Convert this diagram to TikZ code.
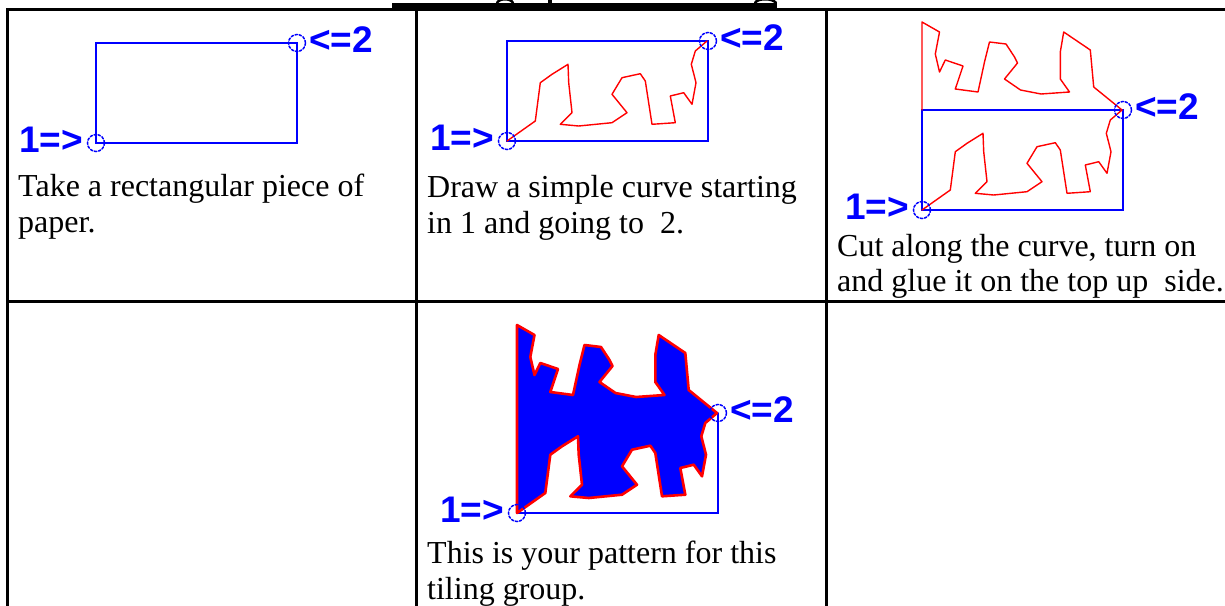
\documentclass[tikz,border=0pt]{standalone}
\usepackage{fontspec}
\setmainfont{Liberation Serif}
\newfontfamily\tagfont{Liberation Sans}
\usepackage{tikz}

% the cut, from point 1 (origin) to point 2; units are pixels, y grows downwards
\newcommand{\lowcut}{(0,0) -- (28.3,-20) -- (33.3,-58.3) -- (45,-66.7) -- (61,-76.7)
  -- (61.7,-58.3) -- (65,-28.3) -- (53.3,-16.7) -- (71.7,-15) -- (105,-18.3)
  -- (120,-28.3) -- (105,-46.7) -- (115,-63.3) -- (133.3,-67.3) -- (138.3,-60)
  -- (145,-16.7) -- (168.3,-18.3) -- (163.3,-45) -- (176.7,-48.3) -- (185,-36.7)
  -- (189,-58.3) -- (184.3,-76.7) -- (188.3,-90) -- (200,-100)}
% same cut walked backwards (starts with a lineto)
\newcommand{\lowcutback}{-- (188.3,-90) -- (184.3,-76.7) -- (189,-58.3) -- (185,-36.7)
  -- (176.7,-48.3) -- (163.3,-45) -- (168.3,-18.3) -- (145,-16.7) -- (138.3,-60)
  -- (133.3,-67.3) -- (115,-63.3) -- (105,-46.7) -- (120,-28.3) -- (105,-18.3)
  -- (71.7,-15) -- (53.3,-16.7) -- (65,-28.3) -- (61.7,-58.3) -- (61,-76.7)
  -- (45,-66.7) -- (33.3,-58.3) -- (28.3,-20) -- (0,0)}
% the piece glued on top
\newcommand{\highcut}{(0,-188) -- (17.5,-178) -- (13.3,-156) -- (17.5,-138) -- (23.3,-150)
  -- (41,-144) -- (33.3,-121) -- (56,-118) -- (62.5,-148) -- (67.5,-168)
  -- (84,-166) -- (92.5,-153) -- (95.5,-147) -- (82.5,-131) -- (98.5,-120)
  -- (119,-116) -- (147.5,-118) -- (138.3,-131) -- (138.3,-158) -- (141.7,-178)
  -- (168.3,-160) -- (171.7,-123) -- (200,-100)}

\begin{document}
\begin{tikzpicture}[x=1pt,y=-1pt,line cap=round,
  tabline/.style={line width=3pt,line cap=rect},
  sheetedge/.style={blue,line width=1.8pt},
  cutedge/.style={red,line width=1.4pt,line join=round},
  endring/.style={blue,line width=1.5pt,dash pattern=on 2.4pt off 1.8pt},
  tagtext/.style={blue,inner sep=0pt,font=\tagfont\bfseries\fontsize{37}{40}\selectfont},
  captext/.style={inner sep=0pt,anchor=base west,font=\fontsize{32}{36}\selectfont}]
\useasboundingbox (0,0) rectangle (1225,605);

% table
\draw[tabline] (7.5,9.5) -- (1226,9.5);
\draw[tabline] (7.5,301) -- (1226,301);
\draw[tabline] (7.5,9.5) -- (7.5,606);
\draw[tabline] (416,9.5) -- (416,606);
\draw[tabline] (826.5,9.5) -- (826.5,606);
% underlined heading, cut off at the top
\fill (392,3) rectangle (777,10);
\draw[line width=2.5pt] (497,3) .. controls (499,-2) and (511,-2) .. (513,3);
\draw[line width=3.5pt] (550,-2) -- (550,3);
\draw[line width=2.5pt] (755,3) .. controls (757,-2) and (773,-2) .. (776,3);

% cell 1
\begin{scope}[shift={(96,143)}]
\draw[sheetedge] (0,0) rectangle (201,-100);
\draw[endring] (0,0) circle (8.5);
\draw[endring] (201,-100) circle (8.5);
\node[tagtext,anchor=base east] (one1) at (-13,9) {1=>};
\node[tagtext,anchor=base west] (two1) at (213,-91) {<=2};
\end{scope}
\node[captext] (cap1a) at (18,196) {Take a rectangular piece of};
\node[captext] (cap1b) at (18,232) {paper.};

% cell 2
\begin{scope}[shift={(507,141)}]
\draw[sheetedge] (0,0) rectangle (201,-100);
\draw[cutedge] \lowcut;
\draw[endring] (0,0) circle (8.5);
\draw[endring] (201,-100) circle (8.5);
\node[tagtext,anchor=base east] (one2) at (-13,9) {1=>};
\node[tagtext,anchor=base west] (two2) at (213,-91) {<=2};
\end{scope}
\node[captext] (cap2a) at (427,197) {Draw a simple curve starting};
\node[captext] (cap2b) at (427,233) {in 1 and going to~ 2.};

% cell 3
\begin{scope}[shift={(922,210)}]
\draw[sheetedge] (0,0) rectangle (201,-100);
\draw[cutedge] (0,-100) -- \highcut;
\draw[cutedge] \lowcut;
\draw[endring] (0,0) circle (8.5);
\draw[endring] (201,-100) circle (8.5);
\node[tagtext,anchor=base east] (one3) at (-13,9) {1=>};
\node[tagtext,anchor=base west] (two3) at (213,-91) {<=2};
\end{scope}
\node[captext] (cap3a) at (837,256) {Cut along the curve, turn on};
\node[captext] (cap3b) at (837,291) {and glue it on the top up~ side.};

% cell 5
\begin{scope}[shift={(517,513)}]
\draw[sheetedge] (0,0) -- (201,0) -- (201,-100);
\filldraw[blue,draw=red,line width=2.6pt,line join=round] \highcut \lowcutback -- cycle;
\draw[endring] (0,0) circle (8.5);
\draw[endring] (201,-100) circle (8.5);
\node[tagtext,anchor=base east] (one5) at (-13,9) {1=>};
\node[tagtext,anchor=base west] (two5) at (213,-91) {<=2};
\end{scope}
\node[captext] (cap5a) at (427,563) {This is your pattern for this};
\node[captext] (cap5b) at (427,599) {tiling group.};
\end{tikzpicture}
\end{document}
